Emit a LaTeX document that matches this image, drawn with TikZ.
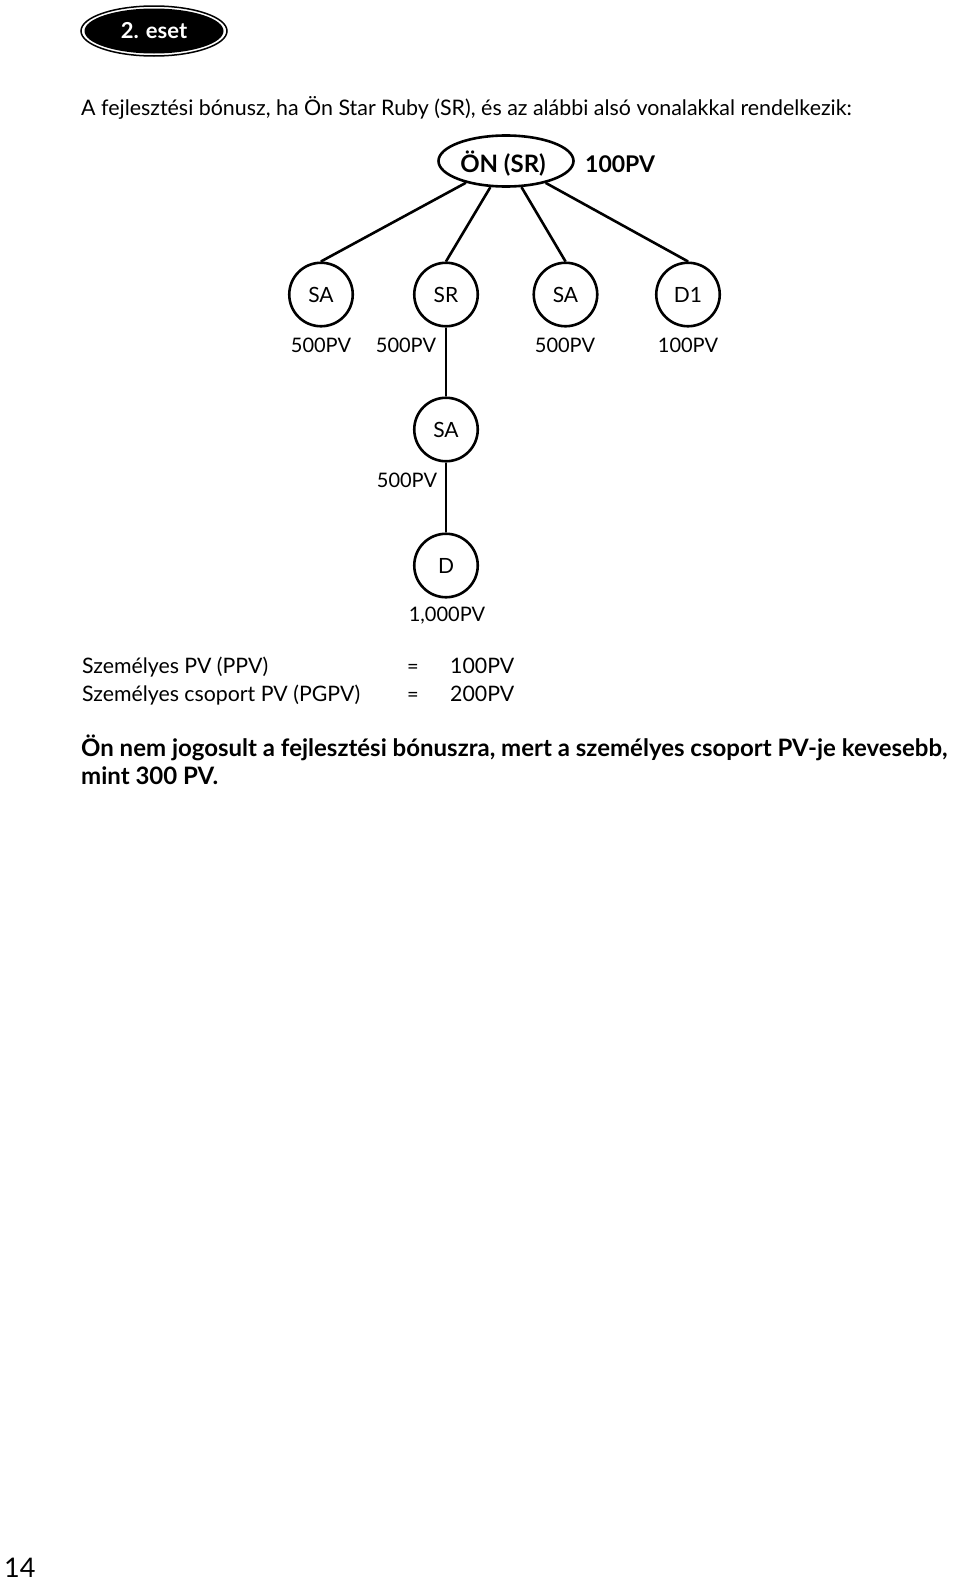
\documentclass[tikz,border=0pt]{standalone}
\usepackage{fontspec}
\setmainfont{Lato}
\usetikzlibrary{shapes.geometric}

\tikzset{
  member/.style={circle, draw, line width=2.6pt, minimum size=63.5pt, inner sep=0pt,
    font=\fontsize{21}{25}\selectfont},
  pvlabel/.style={anchor=base, inner sep=0pt, font=\fontsize{20}{24}\selectfont},
  plain/.style={anchor=base west, inner sep=0pt, font=\fontsize{21.3}{25}\selectfont},
  boldtext/.style={inner sep=0pt, font=\fontsize{24}{28}\selectfont\bfseries},
  link/.style={line width=2.6pt},
}

\begin{document}
\begin{tikzpicture}[x=1pt, y=-1pt]
                \useasboundingbox (0,0) rectangle (960,1582);

                % Drawing badge
                \draw [line width=1.5pt] (154,31) ellipse (73 and 25);%
                \fill (154,31) ellipse (69.5 and 22.5);%
                \node (badge) [anchor=base, inner sep=0pt, text=white, font=\fontsize{22}{26}\selectfont\bfseries] at (154,38) {2. eset};%

                % Heading
                \node (head) [plain, font=\fontsize{21.4}{26}\selectfont] at (81,115) {A fejlesztési bónusz, ha Ön Star Ruby (SR), és az alábbi alsó vonalakkal rendelkezik:};%

                % Drawing root ellipse
                \node (root) [ellipse, draw, line width=2.6pt, minimum width=135pt, minimum height=51pt, inner sep=0pt] at (506,161) {};%
                \node (rootname) [boldtext, anchor=base] at (503,172) {ÖN (SR)};%
                \node (rootpv) [boldtext, anchor=base west, font=\fontsize{23}{27}\selectfont\bfseries] at (585,172) {100PV};%

                % Drawing first line
                \node (sa1) [member] at (321,294.5) {SA};%
                \node (sr) [member] at (446,294.5) {SR};%
                \node (sa2) [member] at (565.5,294.5) {SA};%
                \node (d1) [member] at (688,294.5) {D1};%
                \node (sa1pv) [pvlabel] at (321,352) {500PV};%
                \node (srpv) [pvlabel] at (406,352) {500PV};%
                \node (sa2pv) [pvlabel] at (565,352) {500PV};%
                \node (d1pv) [pvlabel] at (688,352) {100PV};%

                % Drawing second and third line
                \node (sa3) [member] at (446,429.5) {SA};%
                \node (sa3pv) [pvlabel] at (407,487) {500PV};%
                \node (dd) [member] at (446,565.5) {D};%
                \node (ddpv) [pvlabel] at (447,621) {1,000PV};%

                % Drawing connectors
                \draw [link] (root) -- (sa1.north);%
                \draw [link] (root) -- (sr.north);%
                \draw [link] (root) -- (sa2.north);%
                \draw [link] (root) -- (d1.north);%
                \draw [link] (sr.south) -- (sa3.north);%
                \draw [link] (sa3.south) -- (dd.north);%

                % Summary
                \node (ppv) [plain] at (82,673) {Személyes PV (PPV)};%
                \node (ppveq) [pvlabel] at (413,673) {=};%
                \node (ppvval) [plain] at (450,673) {100PV};%
                \node (pgpv) [plain] at (82,701) {Személyes csoport PV (PGPV)};%
                \node (pgpveq) [pvlabel] at (413,701) {=};%
                \node (pgpvval) [plain] at (450,701) {200PV};%

                % Conclusion
                \node (note1) [boldtext, anchor=base west] at (81,756) {Ön nem jogosult a fejlesztési bónuszra, mert a személyes csoport PV-je kevesebb,};%
                \node (note2) [boldtext, anchor=base west] at (81,784) {mint 300 PV.};%

                % Page number
                \node (page) [plain, font=\fontsize{27}{30}\selectfont] at (4,1577) {14};%
\end{tikzpicture}
\end{document}
